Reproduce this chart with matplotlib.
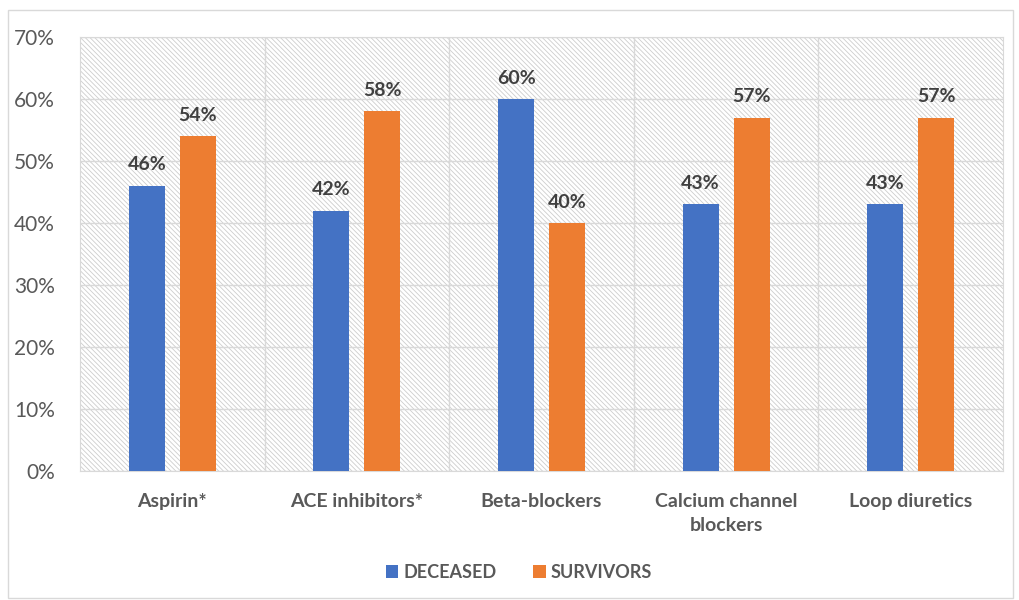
import numpy as np
import matplotlib.pyplot as plt
from matplotlib.patches import Rectangle

categories = ["Aspirin*", "ACE inhibitors*", "Beta-blockers", "Calcium channel\nblockers", "Loop diuretics"]
deceased = [46, 42, 60, 43, 43]
survivors = [54, 58, 40, 57, 57]

plt.rcParams['font.family'] = ['Lato', 'DejaVu Sans']
plt.rcParams['hatch.linewidth'] = 0.6

fig = plt.figure(figsize=(10.19, 6), dpi=100)
fig.patches.append(Rectangle((8/1019, 2/600), 1005/1019, 588/600, transform=fig.transFigure,
                             fill=False, edgecolor='#d9d9d9', linewidth=1))
ax = fig.add_axes([80/1019, 1-471/600, 923/1019, 434/600])

# hatched background of the plot area
ax.add_patch(Rectangle((0, 0), 1, 1, transform=ax.transAxes, facecolor='white',
                       edgecolor='#cdcdcd', linewidth=0, hatch='\\' * 7, zorder=0))

x = np.arange(len(categories))
w = 0.195
off = 0.138
b1 = ax.bar(x - off, deceased, w, color='#4472c4', label='DECEASED', zorder=3)
b2 = ax.bar(x + off, survivors, w, color='#ed7d31', label='SURVIVORS', zorder=3)

for bars, vals in [(b1, deceased), (b2, survivors)]:
    for b, v in zip(bars, vals):
        ax.text(b.get_x() + b.get_width()/2, v + 2.0, f"{v}%", ha='center', va='bottom',
                fontsize=14, fontweight='bold', color='#404040')

ax.set_xlim(-0.5, len(categories) - 0.5)
ax.set_ylim(0, 70)
ax.set_yticks(range(0, 71, 10))
ax.set_yticklabels([f"{t}%" for t in range(0, 71, 10)], fontsize=15, color='#595959')
ax.set_xticks(x)
ax.set_xticklabels(categories, fontsize=14, fontweight='bold', color='#595959', linespacing=1.45)
ax.tick_params(axis='y', length=0, pad=18)
ax.tick_params(axis='x', length=0, pad=16)

ax.grid(axis='y', color='#d9d9d9', linewidth=1, zorder=1)
for xb in np.arange(0.5, len(categories) - 0.5, 1):
    ax.axvline(xb, color='#d9d9d9', linewidth=1, zorder=1)
for s in ax.spines.values():
    s.set_color('#d9d9d9')

leg = fig.legend(loc='center', bbox_to_anchor=(519/1019, 1-572/600), ncol=2, frameon=False,
                 fontsize=13, handlelength=0.7, handleheight=0.7, columnspacing=2.0,
                 handletextpad=0.3)
for t in leg.get_texts():
    t.set_color('#595959')
    t.set_fontweight('bold')

fig.savefig('out.png', dpi=100)
